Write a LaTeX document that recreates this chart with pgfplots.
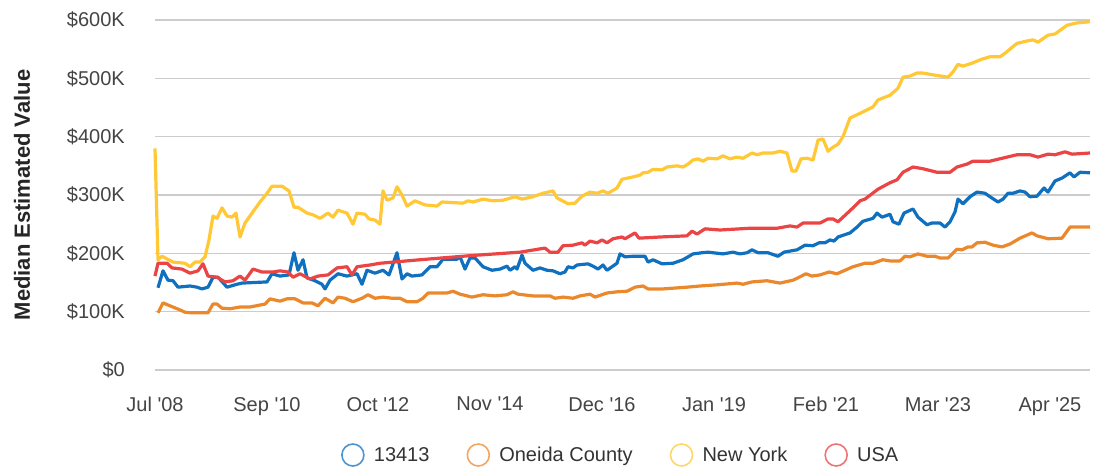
\documentclass[border=0pt]{standalone}
\usepackage{pgfplots}
\pgfplotsset{compat=1.18}
\usepackage{fontspec}
\setmainfont{Liberation Sans}[Ligatures=TeXOff]
\definecolor{cBlue}{RGB}{16,112,192}
\definecolor{cOrange}{RGB}{236,136,44}
\definecolor{cYellow}{RGB}{255,200,52}
\definecolor{cRed}{RGB}{234,68,68}
\definecolor{cGrid}{RGB}{204,204,204}
\definecolor{cText}{RGB}{68,68,68}
\begin{document}
\begin{tikzpicture}
\useasboundingbox (-155pt,-98pt) rectangle (942pt,370pt);
\begin{axis}[
  scale only axis,
  width=935pt, height=350pt,
  xmin=155, xmax=1090, ymin=0, ymax=600,
  axis line style={draw=none},
  tick style={draw=none},
  ymajorgrids, grid style={cGrid, line width=1.4pt},
  ytick={0,100,200,300,400,500,600},
  yticklabels={\$0,\$100K,\$200K,\$300K,\$400K,\$500K,\$600K},
  xtick={155,267,378,490,602,714,826,938,1050},
  xticklabels={Jul '08,Sep '10,Oct '12,Nov '14,Dec '16,Jan '19,Feb '21,Mar '23,Apr '25},
  yticklabel style={font=\fontsize{20}{24}\selectfont, text=cText, inner sep=0pt, anchor=east, xshift=-30pt},
  xticklabel style={font=\fontsize{20}{24}\selectfont, text=cText, inner sep=0pt, anchor=north, yshift=-27pt},
  ylabel={Median Estimated Value},
  every axis y label/.style={at={(axis description cs:-0.1422,0.5)}, rotate=90, anchor=center, font=\fontsize{22}{26}\selectfont\bfseries, text=black!85},
  legend columns=4,
  legend style={draw=none, fill=none, at={(axis description cs:0.497,-0.2429)}, anchor=center,
    font=\fontsize{20}{24}\selectfont, text=black!80,
    /tikz/every odd column/.style={column sep=0pt},
    /tikz/every even column/.style={column sep=37pt},
    nodes={inner sep=0pt}},
  legend image code/.code={\draw[#1, line width=1.6pt, opacity=0.75] (11pt,0pt) circle (11pt); \path[draw=none] (0pt,0pt) -- (32pt,0pt);},
  clip=false,
  line join=round,
]
\addplot[cBlue, line width=3.2pt] coordinates {
(158,141)(163,170)(168,154)(173,153)(178,142)(190,144)(197,142)(202,139)(208,142)(213,159)(218,159)(227,142)(237,147)(242,149)(267,151)(272,165)(280,161)(289,163)(294,201)(298,171)(303,189)(307,158)(315,153)(322,147)(325,139)(330,154)(338,165)(347,161)(357,165)(362,147)(367,171)(375,166)(383,171)(389,163)(397,201)(402,156)(407,165)(412,161)(422,163)(430,177)(437,177)(443,190)(457,190)(460,194)(465,173)(470,192)(475,192)(483,177)(492,171)(500,173)(507,178)(510,171)(515,177)(517,173)(522,197)(525,183)(533,171)(540,175)(547,171)(553,170)(560,165)(565,168)(568,177)(573,175)(577,180)(588,182)(593,178)(598,173)(603,180)(607,171)(617,183)(620,199)(625,194)(633,195)(645,195)(648,185)(653,189)(662,182)(673,183)(683,189)(693,199)(702,201)(708,202)(723,199)(733,202)(740,199)(747,201)(752,206)(758,201)(768,201)(778,195)(784,202)(797,206)(805,214)(813,213)(819,218)(825,218)(830,223)(834,221)(838,228)(850,235)(857,245)(863,255)(873,260)(877,269)(882,262)(890,267)(893,254)(899,250)(904,269)(913,276)(918,262)(927,249)(932,252)(940,252)(945,245)(950,254)(955,271)(958,293)(963,285)(970,297)(977,305)(985,303)(990,297)(998,288)(1003,293)(1008,303)(1013,303)(1020,307)(1025,305)(1030,297)(1037,298)(1044,312)(1048,305)(1055,324)(1062,329)(1070,338)(1074,331)(1080,339)(1090,338)
};
\addlegendentry{13413}
\addplot[cOrange, line width=3.2pt] coordinates {
(158,98)(163,115)(170,110)(180,103)(185,99)(192,98)(208,98)(213,113)(217,113)(222,106)(230,105)(240,108)(250,108)(265,113)(270,122)(280,118)(287,122)(295,122)(303,115)(312,115)(318,110)(325,123)(333,115)(338,125)(345,123)(353,117)(362,123)(368,129)(375,123)(383,125)(392,123)(400,123)(407,117)(417,117)(423,123)(428,132)(440,132)(447,132)(453,135)(460,130)(472,125)(483,129)(495,127)(507,129)(513,134)(518,130)(533,127)(550,127)(555,123)(563,125)(573,123)(580,127)(590,130)(595,125)(607,132)(617,134)(627,135)(635,142)(643,144)(648,139)(663,139)(687,142)(700,144)(717,146)(737,149)(743,147)(752,151)(767,153)(780,149)(793,154)(798,158)(806,165)(812,161)(820,163)(829,168)(837,165)(845,171)(853,177)(865,183)(873,183)(883,189)(890,187)(900,187)(905,195)(910,194)(918,199)(927,195)(935,195)(940,192)(948,192)(957,207)(962,206)(968,211)(972,211)(977,218)(985,219)(993,214)(1002,211)(1010,216)(1020,226)(1032,235)(1037,230)(1048,225)(1062,226)(1070,245)(1080,245)(1090,245)
};
\addlegendentry{Oneida County}
\addplot[cYellow, line width=3.2pt] coordinates {
(155,380)(158,189)(162,195)(173,185)(185,183)(190,177)(195,185)(200,185)(205,194)(209,223)(213,264)(217,260)(222,278)(227,264)(232,262)(236,269)(240,228)(245,252)(260,288)(267,303)(272,315)(282,315)(289,307)(294,279)(298,279)(307,269)(313,266)(320,260)(328,269)(333,262)(338,274)(347,269)(353,250)(357,269)(365,267)(369,259)(375,257)(380,250)(383,307)(387,291)(393,295)(397,314)(402,300)(407,281)(415,290)(425,283)(437,281)(442,288)(463,286)(468,290)(473,288)(483,293)(493,290)(503,291)(515,297)(522,293)(533,297)(543,303)(553,307)(557,295)(568,285)(575,286)(582,298)(590,305)(597,303)(603,307)(608,303)(617,312)(622,327)(633,331)(640,334)(643,338)(648,339)(653,344)(662,343)(667,348)(677,350)(683,348)(688,353)(693,360)(698,362)(703,358)(708,363)(717,362)(723,367)(730,362)(737,365)(743,363)(752,372)(757,369)(763,372)(773,372)(780,375)(787,372)(792,341)(796,341)(801,362)(807,363)(813,360)(818,394)(823,396)(828,375)(833,382)(838,387)(843,400)(850,432)(860,440)(873,451)(878,463)(890,471)(898,483)(903,502)(910,504)(917,509)(923,509)(933,506)(948,502)(953,511)(958,524)(963,521)(972,526)(982,533)(990,537)(1000,537)(1005,543)(1017,560)(1027,564)(1033,566)(1038,562)(1048,574)(1055,576)(1067,591)(1077,595)(1090,597)
};
\addlegendentry{New York}
\addplot[cRed, line width=3.2pt] coordinates {
(155,161)(158,183)(167,183)(172,175)(182,173)(190,166)(198,170)(203,182)(208,161)(217,159)(225,151)(233,153)(240,161)(245,154)(253,173)(262,168)(273,168)(280,170)(288,168)(293,159)(300,165)(310,156)(318,161)(328,163)(337,175)(347,177)(352,163)(357,177)(370,180)(380,183)(420,189)(470,196)(520,202)(545,209)(550,202)(558,202)(563,213)(573,214)(582,218)(585,214)(590,221)(597,218)(602,223)(607,218)(613,225)(622,228)(625,225)(630,230)(635,235)(639,226)(660,228)(687,230)(692,238)(697,233)(705,242)(720,240)(730,241)(750,243)(777,243)(790,247)(797,245)(803,252)(820,252)(828,259)(833,259)(838,254)(853,278)(860,290)(865,293)(878,310)(890,321)(897,326)(903,339)(913,348)(923,345)(937,339)(950,339)(957,348)(967,353)(973,358)(990,358)(1007,365)(1017,369)(1030,369)(1038,365)(1048,370)(1055,369)(1065,374)(1072,370)(1090,372)
};
\addlegendentry{USA}
\end{axis}
\end{tikzpicture}
\end{document}
